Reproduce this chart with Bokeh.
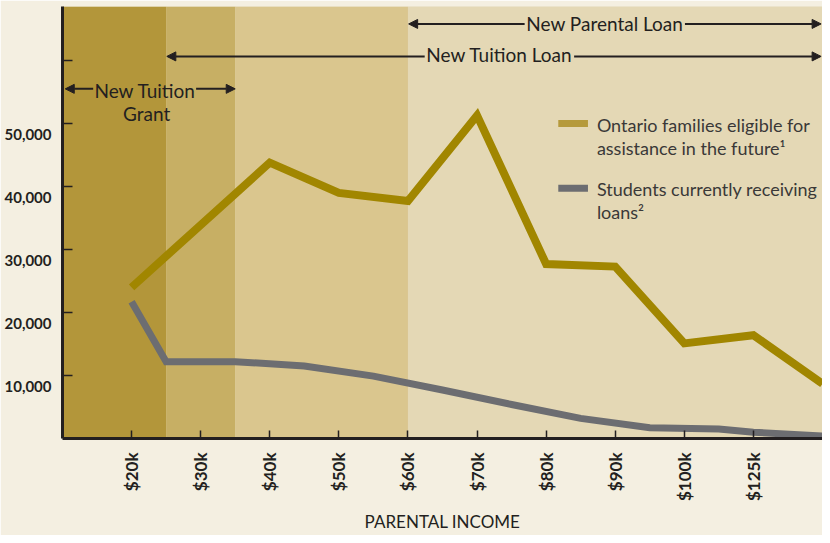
import math
from bokeh.plotting import figure
from bokeh.models import (FixedTicker, BoxAnnotation, Label, Arrow, NormalHead, Range1d)
from bokeh.embed import file_html
from bokeh.resources import INLINE

# ---------------- data ----------------
income_labels = ["$20k", "$30k", "$40k", "$50k", "$60k", "$70k", "$80k", "$90k", "$100k", "$125k"]
income_slots = [1, 2, 3, 4, 5, 6, 7, 8, 9, 10]

families_x = [1, 3, 4, 5, 6, 7, 8, 9, 10, 11]
families_y = [24000, 43800, 39000, 37700, 51300, 27700, 27300, 15100, 16400, 8700]

students_x = [1, 1.5, 2.5, 3.5, 4.5, 5.5, 6.5, 7.5, 8.5, 9.5, 10, 11]
students_y = [21700, 12200, 12200, 11500, 9900, 7700, 5400, 3200, 1700, 1500, 1000, 400]

y_ticks = [10000, 20000, 30000, 40000, 50000, 60000]
y_tick_labels = ["10,000", "20,000", "30,000", "40,000", "50,000", ""]

band_edges = [0, 1.5, 2.5, 5, 11]
band_colors = ["#B3963A", "#C7AF64", "#DAC68E", "#E4D8B5"]

families_label = ["Ontario families eligible for", "assistance in the future\u00b9"]
students_label = ["Students currently receiving", "loans\u00b2"]

# ---------------- style ----------------
FONT = "Lato"
INK = "#231F20"
CREAM = "#F4EFE1"
GOLD = "#A18600"
GOLD_SW = "#B59A3C"
GREY = "#6C6D71"
LEG = "#3A3838"

W, H = 822, 535
BL, BT, BB = 62, 6, 90
FW, FH = W - BL, H - BT - BB
X_MAX = 11
Y_MAX = FH / 64 * 10000

# layout helpers: positions measured on the 830x543 reference image -> data units
REF_X0, REF_XS = 62.0, 768.0 / 11
REF_Y0, REF_YS = 445.3, 64.0 / 10000
BASE_SHIFT = 6.5  # label baseline correction (px)


def dx(px):
    return (px - REF_X0) / REF_XS


def dy(py):
    return (REF_Y0 - py) / REF_YS


p = figure(width=W, height=H, output_backend="svg", toolbar_location=None,
           x_range=Range1d(0, X_MAX), y_range=Range1d(0, Y_MAX),
           min_border_left=BL, min_border_right=0, min_border_top=BT, min_border_bottom=BB)
p.border_fill_color = CREAM
p.background_fill_color = band_colors[-1]
p.outline_line_color = None
p.xgrid.visible = False
p.ygrid.visible = False

for i, c in enumerate(band_colors):
    p.add_layout(BoxAnnotation(left=band_edges[i], right=band_edges[i + 1], fill_color=c,
                               fill_alpha=1, line_color=None, level="underlay"))

p.line(families_x, families_y, line_color=GOLD, line_width=8, line_join="miter")
p.line(students_x, students_y, line_color=GREY, line_width=7, line_join="miter")

# axes
p.yaxis.ticker = FixedTicker(ticks=y_ticks)
# the reference prints each value label just below its tick: a leading blank line shifts it down
p.yaxis.major_label_overrides = {t: ("\n" + l if l else "") for t, l in zip(y_ticks, y_tick_labels)}
p.xaxis.ticker = FixedTicker(ticks=income_slots)
p.xaxis.major_label_overrides = {s: l for s, l in zip(income_slots, income_labels)}
p.xaxis.major_label_orientation = math.pi / 2
for ax in (p.xaxis, p.yaxis):
    ax.axis_line_color = INK
    ax.axis_line_width = 3
    ax.major_tick_line_color = INK
    ax.major_tick_line_width = 1.5
    ax.major_tick_out = 0
    ax.minor_tick_line_color = None
    ax.major_label_text_font = FONT
    ax.major_label_text_color = INK
    ax.major_label_text_font_style = "bold"
p.yaxis.major_tick_in = 10
p.xaxis.major_tick_in = 8
p.yaxis.major_label_text_font_size = "15px"
p.yaxis.major_label_standoff = 11
p.xaxis.major_label_text_font_size = "17px"
p.xaxis.major_label_standoff = 14
p.xaxis.axis_label = "PARENTAL INCOME"
p.xaxis.axis_label_text_font = FONT
p.xaxis.axis_label_text_font_size = "17px"
p.xaxis.axis_label_text_font_style = "normal"
p.xaxis.axis_label_text_color = INK
p.xaxis.axis_label_standoff = 7


def text(x, py, t, size="19px", color=INK, align="center"):
    p.add_layout(Label(x=x, y=dy(py - BASE_SHIFT), text=t, text_font=FONT, text_font_size=size,
                       text_color=color, text_align=align, text_baseline="alphabetic"))


def arrow(x0, x1, y):
    p.add_layout(Arrow(x_start=x0, y_start=y, x_end=x1, y_end=y, line_color=INK, line_width=2,
                       end=NormalHead(size=9, fill_color=INK, line_color=INK, line_width=1)))


# program annotations (spans derived from band edges)
grant_span = (band_edges[0], band_edges[2])
tuition_loan_span = (band_edges[1], band_edges[4])
parental_span = (band_edges[3], band_edges[4])

# New Parental Loan
yp = dy(24)
arrow(dx(529), parental_span[0] + 0.01, yp)
arrow(dx(691), parental_span[1] - 0.02, yp)
text(dx(610), 30, "New Parental Loan")

# New Tuition Loan
yt = dy(57)
arrow(dx(428), tuition_loan_span[0] + 0.01, yt)
arrow(dx(579), tuition_loan_span[1] - 0.02, yt)
text(dx(503.5), 61.7, "New Tuition Loan")

# New Tuition Grant
yg = dy(90)
arrow(dx(93), grant_span[0] + 0.04, yg)
arrow(dx(197), grant_span[1], yg)
text(dx(145.5), 97.7, "New Tuition")
text(dx(147), 121.7, "Grant")

# legend (manual, two-line labels)
for color, top, bot in ((GOLD_SW, 121.7, 128.7), (GREY, 187.5, 194.5)):
    p.add_layout(BoxAnnotation(left=dx(563), right=dx(593), top=dy(top), bottom=dy(bot),
                               fill_color=color, fill_alpha=1, line_color=None))
text(dx(602), 133.3, families_label[0], size="18px", color=LEG, align="left")
text(dx(602), 156.7, families_label[1], size="18px", color=LEG, align="left")
text(dx(602), 198.3, students_label[0], size="18px", color=LEG, align="left")
text(dx(602), 221.7, students_label[1], size="18px", color=LEG, align="left")

open("out.html", "w").write(file_html(p, INLINE))
